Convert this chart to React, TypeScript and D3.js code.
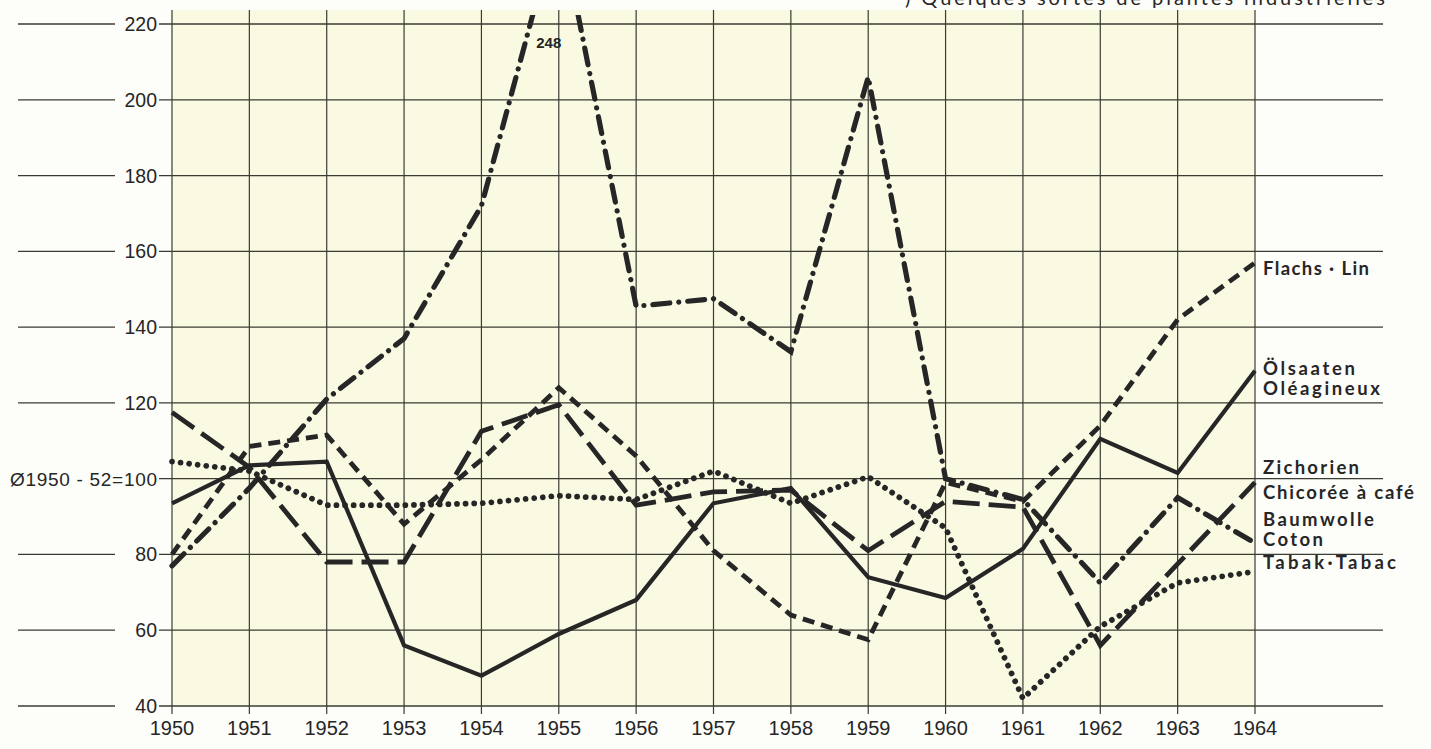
import React from 'react';
import * as d3 from 'd3';

// index 1950-52 = 100
const years = [1950, 1951, 1952, 1953, 1954, 1955, 1956, 1957, 1958, 1959, 1960, 1961, 1962, 1963, 1964];
const yTicks = [40, 60, 80, 100, 120, 140, 160, 180, 200, 220];

const flachs = [80, 108.5, 111.5, 88, 105, 124, 106, 81, 64, 57.5, 99, 94, 114, 142, 157];
const oelsaaten = [93.5, 103.5, 104.5, 56, 48, 59, 68, 93.5, 97.5, 74, 68.5, 81.5, 110.5, 101.5, 128.5];
const zichorien = [117.5, 103, 78, 78, 112.5, 119.5, 93, 96.5, 97, 81, 94, 92.5, 56, 77.5, 99];
const baumwolle = [77, 97.5, 121, 137, 172, 248, 145.5, 147.5, 133.5, 206, 100, 94.5, 72.5, 95, 83];
const tabak = [104.5, 102, 93, 93, 93.5, 95.5, 94.5, 102, 93.5, 100.5, 87, 42, 61, 72.5, 75.5];

const ink = '#262626';
const grid = '#3b3b32';

const x = d3.scaleLinear().domain([1950, 1964]).range([172, 1255]);
const y = d3.scaleLinear().domain([40, 220]).range([706, 24]);

const series = [
  { key: 'flachs', values: flachs, dash: '12 7', width: 4.8, cap: 'butt' },
  { key: 'oelsaaten', values: oelsaaten, dash: null, width: 4.2, cap: 'butt' },
  { key: 'zichorien', values: zichorien, dash: '27 9', width: 4.8, cap: 'butt' },
  { key: 'baumwolle', values: baumwolle, dash: '17 9 0.01 9', width: 5.2, cap: 'round' },
  { key: 'tabak', values: tabak, dash: '0.01 8.6', width: 5.8, cap: 'round' },
];

function Line({ values, dash, width, cap }) {
  const line = d3
    .line()
    .x((d, i) => x(years[i]))
    .y((d) => y(d));
  return (
    <path
      d={line(values)}
      fill="none"
      stroke={ink}
      strokeWidth={width}
      strokeDasharray={dash || undefined}
      strokeLinecap={cap}
      strokeLinejoin="miter"
    />
  );
}

const tickFont = "'Liberation Sans', Arial, sans-serif";
const labelFont = "Lato, 'Open Sans', sans-serif";

export default function App() {
  const x0 = x(1950);
  const x1 = x(1964);
  const gridRight = 1383;

  // series labels on the right, placed from the gridlines
  const labels = [
    { text: 'Flachs · Lin', y: y(160) + 24, len: 106 },
    { text: 'Ölsaaten', y: y(120) - 28, len: 92 },
    { text: 'Oléagineux', y: y(120) - 8, len: 117 },
    { text: 'Zichorien', y: y(100) - 5, len: 96 },
    { text: 'Chicorée à café', y: y(100) + 20, len: 151 },
    { text: 'Baumwolle', y: y(80) - 28, len: 111 },
    { text: 'Coton', y: y(80) - 8, len: 60 },
    { text: 'Tabak·Tabac', y: y(80) + 15, len: 133 },
  ];

  return (
    <svg
      width={1431}
      height={749}
      style={{ position: 'absolute', left: 0, top: 0, background: '#fdfdfa' }}
    >
      <defs>
        <clipPath id="plot-clip">
          <rect x={150} y={y(222.4)} width={1130} height={720} />
        </clipPath>
      </defs>

      {/* title, cut at the top edge as in the scan */}
      <text
        x={905}
        y={5}
        fontFamily={labelFont}
        fontSize={20}
        fill={ink}
        textLength={480}
        lengthAdjust="spacing"
      >
        ) Quelques sortes de plantes industrielles
      </text>

      <rect x={x0} y={10} width={x1 - x0} height={y(40) - 10} fill="#fafae3" />

      {years.map((yr) => (
        <line key={yr} x1={x(yr)} x2={x(yr)} y1={10} y2={714} stroke={grid} strokeWidth={1.2} />
      ))}

      {yTicks.map((t) => (
        <g key={t}>
          <line x1={159} x2={gridRight} y1={y(t)} y2={y(t)} stroke={grid} strokeWidth={1.3} />
          {t !== 100 && (
            <line x1={18} x2={115} y1={y(t)} y2={y(t)} stroke={grid} strokeWidth={1.3} />
          )}
          {t === 100 ? (
            <text
              x={10}
              y={y(t)}
              dy="0.36em"
              fontFamily={tickFont}
              fontSize={19}
              fill={ink}
              textLength={147}
              lengthAdjust="spacing"
            >
              Ø1950 - 52=100
            </text>
          ) : (
            <text x={157} y={y(t)} dy="0.36em" textAnchor="end" fontFamily={tickFont} fontSize={19.5} fill={ink}>
              {t}
            </text>
          )}
        </g>
      ))}

      {years.map((yr) => (
        <text key={yr} x={x(yr)} y={735} textAnchor="middle" fontFamily={tickFont} fontSize={20} fill={ink}>
          {yr}
        </text>
      ))}

      <g clipPath="url(#plot-clip)">
        {series.map((s) => (
          <Line key={s.key} values={s.values} dash={s.dash} width={s.width} cap={s.cap} />
        ))}
      </g>

      <text x={x(1955) - 10} y={48} textAnchor="middle" fontFamily={tickFont} fontWeight={700} fontSize={15} fill={ink}>
        {baumwolle[5]}
      </text>

      {labels.map((l) => (
        <text
          key={l.text}
          x={1263}
          y={l.y}
          fontFamily={labelFont}
          fontWeight={700}
          fontSize={18.5}
          fill={ink}
          textLength={l.len}
          lengthAdjust="spacing"
        >
          {l.text}
        </text>
      ))}
    </svg>
  );
}
